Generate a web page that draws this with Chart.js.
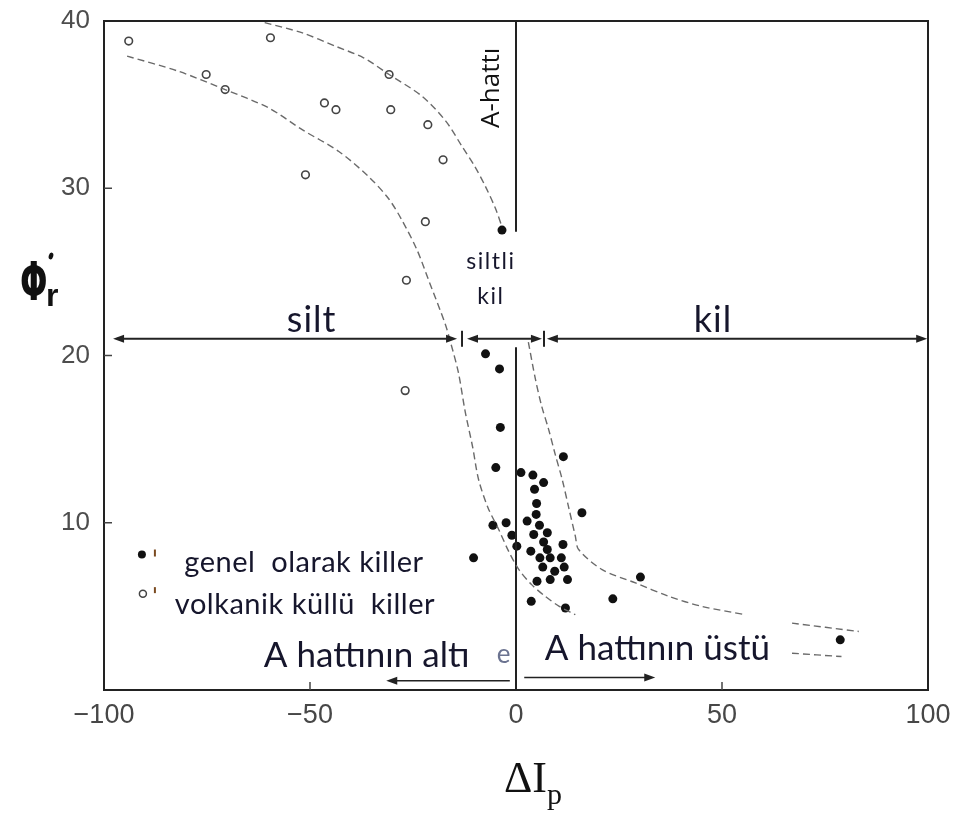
<!DOCTYPE html>
<html>
<head>
<meta charset="utf-8">
<script src="https://cdn.jsdelivr.net/npm/chart.js@4.4.1/dist/chart.umd.min.js"></script>
<style>
  html, body { margin: 0; padding: 0; background: #fff; }
  #wrap { width: 953px; height: 816px; }
</style>
</head>
<body>
<div id="wrap"><canvas id="myChart" width="953" height="816"></canvas></div>
<script>
// filled dots: clays in general (ΔIp, φ'r)
const generalX = [-7.4, -4.0, -3.8, -4.9, 11.5, 1.2, 4.1, 6.7, 4.5, 16.0, 5.0, 4.9, 2.7, -5.6, -2.4, 5.7, -1.0, 4.3, 7.6, 6.7, 0.2, 11.4, 3.6, 7.6, 5.8, 8.3, 11.0, -10.3, 6.5, 9.4, 11.7, 5.1, 8.3, 12.5, 3.7, 12.0, 23.5, 30.2, 78.7, -3.4];
const generalY = [20.1, 19.2, 15.7, 13.3, 13.95, 13.0, 12.85, 12.4, 12.0, 10.6, 11.15, 10.5, 10.1, 9.85, 10.0, 9.85, 9.25, 9.3, 9.4, 8.85, 8.6, 8.7, 8.3, 8.4, 7.9, 7.9, 7.9, 7.9, 7.35, 7.1, 7.35, 6.5, 6.6, 6.6, 5.3, 4.9, 5.45, 6.75, 3.0, 27.5];

// open circles: volcanic ash clays
const volcanicX = [-94.0, -59.6, -75.2, -70.6, -46.5, -43.7, -30.8, -30.4, -21.4, -17.7, -51.1, -22.0, -26.6, -26.9];
const volcanicY = [38.8, 39.0, 36.8, 35.9, 35.1, 34.7, 36.8, 34.7, 33.8, 31.7, 30.8, 28.0, 24.5, 17.9];

// dashed boundary curves (null = hidden part)
const upperCurveX = [-61, -52, -43.9, -37, -30.8, -22.8, -17, -13.1, -10, -7.4, -5, -3.4, null, 3.0, 4.7, 6.2, 7.9, 9.5, 11.2, 12.8, 14.4, 15.2, 20.9, 29, 37.1, 45.1, 55.7, null, 67, 83.2];
const upperCurveY = [39.9, 39.3, 38.5, 37.8, 36.8, 35.5, 34.0, 32.5, 31.3, 30.1, 28.8, 27.7, null, 20.8, 18.6, 17.0, 15.6, 14.1, 12.6, 10.9, 9.2, 8.4, 7.2, 6.4, 5.6, 5.0, 4.5, null, 4.0, 3.5];
const lowerCurveX = [-94.4, -82, -70.6, -60, -51.9, -43, -35.8, -31, -27.7, -24, -21.2, -17.2, -15.9, -14, -12.3, -10.5, -9.1, -6.8, -4.2, -1.8, 0.7, 3.8, 7.1, 10.5, 14.4, null, 67, 79];
const lowerCurveY = [37.9, 37.0, 35.9, 34.8, 33.5, 32.2, 30.7, 29.4, 28.1, 26.3, 24.5, 21.9, 20.8, 19.0, 16.6, 14.5, 12.6, 10.9, 9.6, 8.3, 7.2, 6.3, 5.6, 5.0, 4.5, null, 2.2, 2.0];

// A-line (ΔIp = 0)
const aLineX = [0, 0, null, 0, 0];
const aLineY = [40, 27.4, null, 20.5, 0];

const xTicks = [-100, -50, 0, 50, 100];
const yTicks = [10, 20, 30, 40];

// range arrows at φ'r = 21
const rangeY = 21;
const rangeArrows = [[-97.8, -14.3], [-11.9, 6.3], [7.5, 99.8]];
const rangeBars = [-13.1, 6.8];
// A-line below / above arrows
const sideArrows = [[-1.5, -31.5, 0.55], [2.0, 33.8, 0.75]];

const labels = [
    { text: 'silt', x: -49.6, y: 22.1, size: 36, align: 'center', spacing: 1 },
    { text: 'kil', x: 47.8, y: 22.1, size: 36, align: 'center', spacing: 1 },
    { text: 'siltli', x: -6.1, y: 25.6, size: 23, align: 'center', spacing: 1.5 },
    { text: 'kil', x: -6.1, y: 23.5, size: 23, align: 'center', spacing: 1.5 },
    { text: 'genel  olarak killer', x: -80.5, y: 7.6, size: 29, align: 'left', spacing: 0.5 },
    { text: 'volkanik küllü  killer', x: -82.8, y: 5.1, size: 29, align: 'left', spacing: 0.5 },
    { text: 'A hattının altı', x: -61.2, y: 2.05, size: 35, align: 'left', spacing: 0 },
    { text: 'A hattının üstü', x: 7.0, y: 2.45, size: 35, align: 'left', spacing: 0 }
];

function toPoints(xs, ys) {
    return xs.map((x, i) => ({ x: x, y: ys[i] }));
}

function arrowHead(ctx, x, y, dir) {
    ctx.beginPath();
    ctx.moveTo(x, y);
    ctx.lineTo(x - dir * 11, y - 4);
    ctx.lineTo(x - dir * 11, y + 4);
    ctx.closePath();
    ctx.fill();
}

const overlay = {
    id: 'overlay',
    afterDraw(chart) {
        const ctx = chart.ctx;
        const xs = chart.scales.x;
        const ys = chart.scales.y;
        const area = chart.chartArea;
        ctx.save();

        // frame
        ctx.strokeStyle = '#222';
        ctx.lineWidth = 2;
        ctx.strokeRect(area.left, area.top, area.right - area.left, area.bottom - area.top);

        // inward ticks
        ctx.lineWidth = 1.5;
        ctx.strokeStyle = '#444';
        [-50, 50].forEach((v) => {
            const px = xs.getPixelForValue(v);
            ctx.beginPath();
            ctx.moveTo(px, area.bottom);
            ctx.lineTo(px, area.bottom - 8);
            ctx.stroke();
        });
        [10, 20, 30].forEach((v) => {
            const py = ys.getPixelForValue(v);
            ctx.beginPath();
            ctx.moveTo(area.left, py);
            ctx.lineTo(area.left + 8, py);
            ctx.stroke();
        });

        // range arrows
        ctx.strokeStyle = '#222';
        ctx.fillStyle = '#222';
        ctx.lineWidth = 2;
        const ry = ys.getPixelForValue(rangeY);
        rangeArrows.forEach(([a, b]) => {
            const pa = xs.getPixelForValue(a);
            const pb = xs.getPixelForValue(b);
            ctx.beginPath();
            ctx.moveTo(pa + 4, ry);
            ctx.lineTo(pb - 4, ry);
            ctx.stroke();
            arrowHead(ctx, pa, ry, -1);
            arrowHead(ctx, pb, ry, 1);
        });
        rangeBars.forEach((v) => {
            const px = xs.getPixelForValue(v);
            ctx.beginPath();
            ctx.moveTo(px, ry - 8);
            ctx.lineTo(px, ry + 8);
            ctx.stroke();
        });

        // side arrows near the bottom
        ctx.lineWidth = 1.5;
        sideArrows.forEach(([a, b, yv]) => {
            const pa = xs.getPixelForValue(a);
            const pb = xs.getPixelForValue(b);
            const py = ys.getPixelForValue(yv);
            const dir = pb > pa ? 1 : -1;
            ctx.beginPath();
            ctx.moveTo(pa, py);
            ctx.lineTo(pb - dir * 4, py);
            ctx.stroke();
            arrowHead(ctx, pb, py, dir);
        });

        // text labels
        ctx.fillStyle = '#16162c';
        ctx.textBaseline = 'middle';
        labels.forEach((l) => {
            ctx.font = l.size + 'px Lato, "Open Sans", sans-serif';
            ctx.letterSpacing = l.spacing + 'px';
            ctx.textAlign = l.align;
            ctx.fillText(l.text, xs.getPixelForValue(l.x), ys.getPixelForValue(l.y));
        });
        ctx.letterSpacing = '0px';

        // A-hattı rotated label
        ctx.save();
        ctx.translate(xs.getPixelForValue(-6.0), ys.getPixelForValue(36.0));
        ctx.rotate(-Math.PI / 2);
        ctx.textAlign = 'center';
        ctx.font = '26px "Open Sans", sans-serif';
        ctx.fillStyle = '#111';
        ctx.fillText('A-hattı', 0, 0);
        ctx.restore();

        // leftover glyph
        ctx.fillStyle = '#6b7390';
        ctx.font = '26px Lato, sans-serif';
        ctx.textAlign = 'center';
        ctx.fillText('e', xs.getPixelForValue(-3.0), ys.getPixelForValue(2.1));

        // legend markers
        const lx = xs.getPixelForValue(-90.8);
        ctx.fillStyle = '#111';
        ctx.beginPath();
        ctx.arc(lx, ys.getPixelForValue(8.1), 4, 0, Math.PI * 2);
        ctx.fill();
        ctx.strokeStyle = '#444';
        ctx.lineWidth = 1.5;
        ctx.beginPath();
        ctx.arc(lx + 1, ys.getPixelForValue(5.75), 3.5, 0, Math.PI * 2);
        ctx.stroke();
        ctx.fillStyle = '#7a4a20';
        ctx.fillRect(lx + 12, ys.getPixelForValue(8.4), 2, 7);
        ctx.fillRect(lx + 12, ys.getPixelForValue(6.15), 2, 6);

        // axis titles
        ctx.fillStyle = '#111';
        ctx.textAlign = 'left';
        ctx.textBaseline = 'alphabetic';
        ctx.save();
        ctx.translate(20, 300);
        ctx.scale(0.6, 1);
        ctx.font = 'bold 54px "DejaVu Sans", sans-serif';
        ctx.fillText('Φ', 0, 0);
        ctx.restore();
        ctx.font = 'bold 32px "Liberation Sans", sans-serif';
        ctx.fillText('r', 46, 306);
        ctx.beginPath();
        ctx.ellipse(51, 256, 2.2, 3.5, 0.3, 0, Math.PI * 2);
        ctx.fill();

        ctx.font = '44px "Liberation Serif", serif';
        ctx.fillText('ΔI', 504, 792);
        ctx.font = '30px "Liberation Serif", serif';
        ctx.fillText('p', 547, 804);

        ctx.restore();
    }
};

window.onload = () => {
    const chartContext = document.getElementById('myChart').getContext('2d');
    const curveStyle = {
        showLine: true,
        borderColor: '#6a6a6a',
        borderWidth: 1.4,
        borderDash: [7, 4],
        pointRadius: 0,
        tension: 0.3,
        spanGaps: false
    };
    const chartConfig = {
        type: 'scatter',
        data: {
            datasets: [
                Object.assign({ label: 'upper', data: toPoints(upperCurveX, upperCurveY) }, curveStyle),
                Object.assign({ label: 'lower', data: toPoints(lowerCurveX, lowerCurveY) }, curveStyle),
                {
                    label: 'A-hattı',
                    data: toPoints(aLineX, aLineY),
                    showLine: true,
                    borderColor: '#222',
                    borderWidth: 2,
                    pointRadius: 0,
                    spanGaps: false
                },
                {
                    label: 'genel olarak killer',
                    data: toPoints(generalX, generalY),
                    pointRadius: 4.5,
                    pointBackgroundColor: '#111',
                    pointBorderColor: '#111',
                    pointBorderWidth: 0
                },
                {
                    label: 'volkanik küllü killer',
                    data: toPoints(volcanicX, volcanicY),
                    pointRadius: 3.8,
                    pointBackgroundColor: '#fff',
                    pointBorderColor: '#444',
                    pointBorderWidth: 1.6
                }
            ]
        },
        options: {
            responsive: false,
            animation: false,
            layout: { padding: { left: 0, top: 21, right: 25, bottom: 0 } },
            plugins: {
                legend: { display: false },
                tooltip: { enabled: false }
            },
            scales: {
                x: {
                    type: 'linear',
                    min: -100,
                    max: 100,
                    afterFit: (s) => {
                        s.height = 126;
                        s.paddingLeft = 0;
                        s.paddingRight = 0;
                    },
                    afterBuildTicks: (s) => { s.ticks = xTicks.map((v) => ({ value: v })); },
                    grid: { display: false, drawTicks: false },
                    border: { display: false },
                    ticks: {
                        padding: 9,
                        color: '#474747',
                        font: { family: '"Liberation Sans", Arial, sans-serif', size: 27 },
                        callback: (v) => String(v).replace('-', '\u2212')
                    }
                },
                y: {
                    type: 'linear',
                    min: 0,
                    max: 40,
                    afterFit: (s) => {
                        s.width = 104;
                        s.paddingTop = 0;
                        s.paddingBottom = 0;
                    },
                    afterBuildTicks: (s) => { s.ticks = yTicks.map((v) => ({ value: v })); },
                    grid: { display: false, drawTicks: false },
                    border: { display: false },
                    ticks: {
                        padding: 14,
                        color: '#4d4d4d',
                        font: { family: '"Liberation Sans", Arial, sans-serif', size: 26 }
                    }
                }
            }
        },
        plugins: [overlay]
    };
    const myChart = new Chart(chartContext, chartConfig);
};
</script>
</body>
</html>
